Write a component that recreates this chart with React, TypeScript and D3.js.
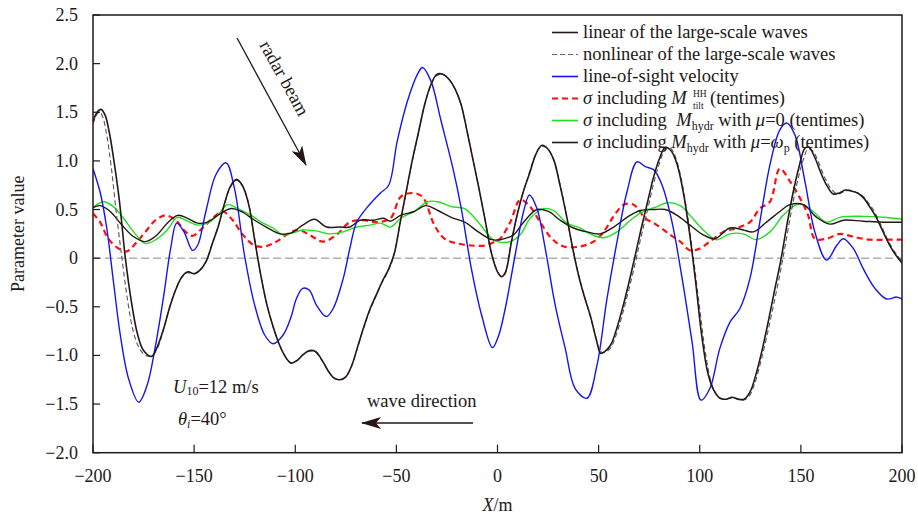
import React from "react";
import * as d3 from "d3";

type Pt = [number, number];

// ---- axes ----
const xTicks = [-200, -150, -100, -50, 0, 50, 100, 150, 200];
const xTickLabels = ["−200", "−150", "−100", "−50", "0", "50", "100", "150", "200"];
const yTicks = [2.5, 2.0, 1.5, 1.0, 0.5, 0, -0.5, -1.0, -1.5, -2.0];
const yTickLabels = ["2.5", "2.0", "1.5", "1.0", "0.5", "0", "−0.5", "−1.0", "−1.5", "−2.0"];

// ---- series: [X (m), value] ----
const linearWave: Pt[] = [
  [-200, 1.40], [-198, 1.50], [-196, 1.53], [-194, 1.47], [-192, 1.30], [-190, 1.05], [-187, 0.60],
  [-184, 0.0], [-181, -0.45], [-178, -0.78], [-175, -0.95], [-171, -1.01], [-168, -0.90], [-165, -0.72],
  [-162, -0.50], [-159, -0.32], [-156, -0.19], [-153, -0.14], [-150, -0.16], [-147, -0.12], [-144, -0.03],
  [-141, 0.15], [-138, 0.33], [-135, 0.56], [-132, 0.74], [-129, 0.81], [-126, 0.74], [-123, 0.55],
  [-120, 0.18], [-117, -0.18], [-114, -0.48], [-111, -0.70], [-108, -0.88], [-105, -1.01], [-102, -1.08],
  [-99, -1.05], [-96, -0.99], [-93, -0.95], [-90, -0.96], [-87, -1.04], [-84, -1.15], [-81, -1.23],
  [-78, -1.25], [-75, -1.22], [-72, -1.10], [-69, -0.90], [-66, -0.70], [-63, -0.52], [-60, -0.38],
  [-57, -0.24], [-54, -0.12], [-51, 0.05], [-48, 0.38], [-45, 0.70], [-42, 1.02], [-39, 1.30],
  [-36, 1.58], [-33, 1.78], [-30, 1.89], [-27, 1.89], [-24, 1.84], [-21, 1.74], [-18, 1.58],
  [-15, 1.30], [-12, 1.00], [-9, 0.70], [-6, 0.38], [-3, 0.05], [0, -0.14], [2, -0.19], [4, -0.14],
  [7, 0.18], [10, 0.47], [13, 0.70], [16, 0.88], [19, 1.07], [22, 1.16], [25, 1.12], [28, 1.00],
  [31, 0.74], [34, 0.45], [37, 0.12], [40, -0.17], [43, -0.40], [46, -0.60], [49, -0.85], [51, -0.98],
  [53, -0.96], [56, -0.89], [59, -0.72], [62, -0.50], [65, -0.25], [68, 0.02], [71, 0.30], [74, 0.56],
  [77, 0.82], [80, 1.02], [83, 1.14], [86, 1.10], [89, 0.95], [92, 0.66], [95, 0.25], [98, -0.25],
  [101, -0.80], [104, -1.18], [107, -1.36], [110, -1.44], [113, -1.45], [116, -1.43], [119, -1.45],
  [122, -1.45], [125, -1.37], [128, -1.18], [131, -0.93], [134, -0.64], [137, -0.33], [140, -0.03],
  [143, 0.33], [146, 0.66], [149, 0.93], [152, 1.13], [154, 1.14], [157, 1.03], [160, 0.87], [163, 0.74],
  [166, 0.66], [169, 0.67], [172, 0.70], [175, 0.69], [178, 0.67], [181, 0.62], [184, 0.53], [187, 0.43],
  [190, 0.30], [194, 0.13], [197, 0.03], [200, -0.05],
];

const nonlinearWave: Pt[] = [
  [-200, 1.38], [-198, 1.48], [-196.5, 1.50], [-195, 1.44], [-193, 1.24], [-191, 0.94], [-188.5, 0.47],
  [-185.7, 0.0], [-183, -0.42], [-180, -0.76], [-177, -0.93], [-174, -1.00], [-171, -1.00], [-168, -0.92],
  [-165.5, -0.76], [-162.5, -0.53], [-159.5, -0.34], [-156.5, -0.21], [-153.5, -0.15], [-150.5, -0.16],
  [-147.5, -0.13], [-144.5, -0.05], [-141.5, 0.12], [-138.5, 0.30], [-135.5, 0.52], [-132.5, 0.71],
  [-129.5, 0.80], [-126.5, 0.76], [-123.5, 0.60], [-120.5, 0.25], [-117.5, -0.12], [-114.5, -0.44],
  [-111.5, -0.67], [-108.5, -0.86], [-105.5, -0.99], [-102.5, -1.07], [-99.5, -1.06], [-96.5, -1.00],
  [-93.5, -0.96], [-90.5, -0.96], [-87.5, -1.03], [-84.5, -1.13], [-81.5, -1.22], [-78.5, -1.25],
  [-75.5, -1.23], [-72.5, -1.13], [-69.5, -0.94], [-66.5, -0.74], [-63.5, -0.56], [-60.5, -0.41],
  [-57.5, -0.27], [-54.5, -0.15], [-51.5, 0.01], [-48.5, 0.32], [-45.5, 0.64], [-42.5, 0.96],
  [-39.5, 1.25], [-36.5, 1.54], [-33.5, 1.75], [-30.5, 1.87], [-27.5, 1.89], [-24.5, 1.85], [-21.5, 1.76],
  [-18.5, 1.61], [-15.5, 1.35], [-12.5, 1.05], [-9.5, 0.75], [-6.5, 0.43], [-3.5, 0.10], [-0.5, -0.11],
  [1.5, -0.18], [3.5, -0.17], [6, 0.08], [9, 0.38], [12, 0.63], [15, 0.83], [18, 1.02], [21, 1.14],
  [24, 1.14], [27, 1.05], [30, 0.84], [33, 0.56], [36, 0.23], [39, -0.07], [42, -0.32], [45, -0.53],
  [48, -0.76], [51, -0.96], [53, -0.97], [56, -0.92], [59, -0.77], [62, -0.56], [65, -0.32], [68, -0.06],
  [71, 0.22], [74, 0.48], [77, 0.75], [80, 0.97], [83, 1.12], [85.5, 1.13], [88, 1.04], [91, 0.80],
  [94, 0.43], [97, -0.02], [100, -0.52], [103, -1.00], [106, -1.30], [109, -1.42], [112, -1.45],
  [115, -1.44], [118, -1.44], [121, -1.46], [124, -1.43], [127, -1.30], [130, -1.08], [133, -0.82],
  [136, -0.53], [139, -0.23], [142, 0.10], [145, 0.45], [148, 0.76], [151, 1.00], [153.5, 1.12],
  [156, 1.10], [159, 0.97], [162, 0.82], [165, 0.71], [168, 0.66], [171, 0.68], [174, 0.70], [177, 0.68],
  [180, 0.65], [183, 0.58], [186, 0.49], [189, 0.37], [192, 0.23], [195, 0.11], [198, 0.02], [200, -0.03],
];

const losVelocity: Pt[] = [
  [-200, 0.92], [-196.5, 0.68], [-193.2, 0.31], [-189.9, -0.24], [-186.5, -0.79], [-182.4, -1.24],
  [-177.4, -1.48], [-173.3, -1.31], [-169.1, -0.90], [-165, -0.38], [-161.6, 0.10], [-158.6, 0.36],
  [-155, 0.27], [-150.8, 0.08], [-148.3, 0.13], [-144.2, 0.48], [-139.2, 0.86], [-134.2, 0.98],
  [-130.1, 0.72], [-125.1, 0.03], [-120.1, -0.48], [-115.1, -0.79], [-111, -0.88], [-106, -0.79],
  [-102, -0.60], [-99.5, -0.42], [-96.3, -0.31], [-93, -0.33], [-89.6, -0.48], [-84.6, -0.60],
  [-81.3, -0.52], [-76.3, -0.21], [-73, 0.10], [-69.6, 0.37], [-62.9, 0.56], [-57.9, 0.67], [-53.8, 0.75],
  [-49.6, 1.20], [-44.6, 1.61], [-39.6, 1.89], [-37.1, 1.96], [-32.9, 1.82], [-27.9, 1.41], [-22, 0.92],
  [-17.9, 0.51], [-12.9, -0.11], [-7.8, -0.59], [-2.5, -0.92], [0.5, -0.80], [3.8, -0.52], [8.7, 0.03],
  [12.9, 0.48], [15.8, 0.65], [19.5, 0.51], [23.6, 0.10], [28.5, -0.48], [33.5, -0.93], [38.4, -1.34],
  [44.2, -1.44], [49.2, -1.10], [54.1, -0.42], [59.1, 0.17], [64, 0.68], [69, 0.99], [73.1, 0.94],
  [77.2, 0.91], [81.4, 0.75], [86.3, 0.37], [91.3, -0.21], [96.2, -0.86], [100.6, -1.46], [105, -1.34],
  [109.9, -0.93], [114.9, -0.66], [119.8, -0.52], [124.8, -0.21], [129.7, 0.37], [134.7, 0.96],
  [139.6, 1.32], [143, 1.39], [147, 1.27], [152, 0.79], [156.9, 0.27], [162.7, -0.02], [167.7, 0.13],
  [171, 0.20], [175.9, 0.10], [180.9, -0.11], [186.6, -0.31], [192.4, -0.42], [197.4, -0.40], [200, -0.42],
];

const sigmaTilt: Pt[] = [
  [-200, 0.46], [-196.5, 0.37], [-192.4, 0.20], [-187.4, 0.10], [-183.2, 0.07], [-178.2, 0.17],
  [-174.1, 0.27], [-169.1, 0.39], [-164.1, 0.44], [-159.1, 0.39], [-154.2, 0.27], [-150.8, 0.23],
  [-145.8, 0.31], [-140.9, 0.41], [-135.9, 0.48], [-130.9, 0.39], [-125.9, 0.24], [-120.1, 0.13],
  [-115.1, 0.12], [-109.3, 0.17], [-102, 0.27], [-98, 0.29], [-93, 0.24], [-86.3, 0.17], [-79.6, 0.24],
  [-73, 0.37], [-66.3, 0.39], [-59.6, 0.37], [-52.9, 0.41], [-47.9, 0.63], [-42.1, 0.67], [-37.1, 0.63],
  [-31.2, 0.34], [-26.2, 0.20], [-19.5, 0.15], [-12.9, 0.13], [-6.2, 0.13], [-1.2, 0.17], [1.3, 0.20],
  [6.3, 0.37], [11.2, 0.60], [15.3, 0.55], [21.1, 0.37], [26.9, 0.20], [32.7, 0.12], [40.9, 0.12],
  [47.5, 0.17], [52.5, 0.27], [57.4, 0.43], [62.4, 0.55], [67.3, 0.55], [73.1, 0.41], [78.9, 0.34],
  [85.5, 0.24], [90.4, 0.17], [95.2, 0.08], [100, 0.10], [105, 0.17], [111.6, 0.27], [118.2, 0.31],
  [124.8, 0.37], [129.7, 0.51], [134.7, 0.58], [139.6, 0.92], [144.6, 0.79], [149.5, 0.62], [153.6, 0.44],
  [156.9, 0.20], [162.7, 0.20], [169.3, 0.25], [175.9, 0.22], [184.2, 0.19], [192.4, 0.19], [200, 0.19],
];

const sigmaHydrZero: Pt[] = [
  [-200, 0.52], [-194.9, 0.58], [-189.9, 0.53], [-184.9, 0.41], [-179.9, 0.27], [-174.1, 0.15],
  [-168.3, 0.20], [-163.3, 0.29], [-158.3, 0.42], [-153.3, 0.38], [-148.3, 0.34], [-143.4, 0.36],
  [-138.4, 0.44], [-133.4, 0.55], [-128.4, 0.51], [-121.8, 0.44], [-116.8, 0.37], [-111, 0.31],
  [-106, 0.24], [-101, 0.26], [-96.3, 0.29], [-89.6, 0.28], [-83, 0.25], [-76.3, 0.27], [-69.6, 0.32],
  [-62.9, 0.34], [-57.9, 0.36], [-52.9, 0.32], [-47.9, 0.41], [-41.2, 0.48], [-34.6, 0.58], [-29.5, 0.58],
  [-22.9, 0.53], [-16.2, 0.51], [-9.5, 0.37], [-2.8, 0.20], [0, 0.17], [6.3, 0.17], [11.2, 0.24],
  [16.2, 0.41], [22.8, 0.51], [27.7, 0.49], [34.3, 0.36], [40.9, 0.31], [45.9, 0.25], [52.5, 0.21],
  [59.1, 0.27], [65.7, 0.39], [72.3, 0.48], [78.9, 0.53], [83.8, 0.57], [90.4, 0.54], [95.2, 0.44],
  [101.7, 0.29], [108.3, 0.19], [114.9, 0.25], [121.5, 0.25], [128, 0.19], [134.7, 0.27], [141.3, 0.44],
  [147.9, 0.55], [151.2, 0.55], [156.1, 0.48], [162.7, 0.37], [169.3, 0.42], [180.9, 0.43], [190.8, 0.42],
  [200, 0.40],
];

const sigmaHydrPeak: Pt[] = [
  [-200, 0.52], [-196.5, 0.54], [-191.5, 0.48], [-185.7, 0.34], [-179.9, 0.22], [-174.1, 0.17],
  [-168.3, 0.24], [-163.3, 0.36], [-158, 0.44], [-153.3, 0.41], [-148.3, 0.36], [-143.4, 0.37],
  [-138.4, 0.44], [-131.7, 0.51], [-126.7, 0.48], [-120.1, 0.39], [-113.5, 0.31], [-107.6, 0.25],
  [-102, 0.26], [-96.3, 0.34], [-90.5, 0.40], [-84.6, 0.32], [-78, 0.32], [-73, 0.32], [-68, 0.39],
  [-61.3, 0.39], [-56.3, 0.41], [-53, 0.38], [-47.9, 0.44], [-41.2, 0.48], [-35.4, 0.54], [-29.5, 0.49],
  [-22.9, 0.42], [-16.2, 0.37], [-9.5, 0.27], [-2.8, 0.19], [1.3, 0.19], [7.9, 0.24], [12.9, 0.37],
  [19.5, 0.50], [25.2, 0.48], [31, 0.39], [37.6, 0.31], [44.2, 0.27], [50.8, 0.25], [57.4, 0.32],
  [64, 0.42], [70.6, 0.49], [77.2, 0.50], [83, 0.50], [88.8, 0.44], [95.2, 0.34], [101.7, 0.24],
  [107.4, 0.20], [114.9, 0.31], [121.5, 0.29], [126.4, 0.27], [133, 0.37], [139.6, 0.48], [144.6, 0.55],
  [151.2, 0.55], [157.8, 0.42], [164.4, 0.35], [171, 0.39], [180.9, 0.38], [190.8, 0.37], [200, 0.37],
];

// ---- layout & style ----
const W = 918;
const H = 515;
const LEFT = 93;
const RIGHT = 902;
const TOP = 15;
const BOTTOM = 452.7;
const FONT = "'Liberation Serif', 'Times New Roman', Times, serif";
const INK = "#231815";
const TEXT_SIZE = 18.5;

const x = d3.scaleLinear().domain([-200, 200]).range([LEFT, RIGHT]);
const y = d3.scaleLinear().domain([-2, 2.5]).range([BOTTOM, TOP]);
const lineGen = d3
  .line<Pt>()
  .x((d) => x(d[0]))
  .y((d) => y(d[1]))
  .curve(d3.curveCatmullRom.alpha(0.5));

type Series = { key: string; data: Pt[]; color: string; width: number; dash?: string };

const seriesList: Series[] = [
  { key: "tilt", data: sigmaTilt, color: "#ff1010", width: 2.2, dash: "6,4" },
  { key: "hydr0", data: sigmaHydrZero, color: "#1fe01f", width: 1.4 },
  { key: "hydrP", data: sigmaHydrPeak, color: INK, width: 1.4 },
  { key: "los", data: losVelocity, color: "#1414f0", width: 1.4 },
  { key: "nonlinear", data: nonlinearWave, color: "#555", width: 1.1, dash: "5,3" },
  { key: "linear", data: linearWave, color: INK, width: 1.6 },
];

const legendSwatches: Series[] = [
  { key: "linear", data: [], color: INK, width: 1.6 },
  { key: "nonlinear", data: [], color: "#666", width: 1.2, dash: "5,3" },
  { key: "los", data: [], color: "#1414f0", width: 1.6 },
  { key: "tilt", data: [], color: "#ff1010", width: 2.2, dash: "6,4" },
  { key: "hydr0", data: [], color: "#1fe01f", width: 1.6 },
  { key: "hydrP", data: [], color: INK, width: 1.6 },
];

function LegendLabel({ index }: { index: number }) {
  const it = { fontStyle: "italic" as const };
  switch (index) {
    case 0:
      return <>linear of the large-scale waves</>;
    case 1:
      return <>nonlinear of the large-scale waves</>;
    case 2:
      return <>line-of-sight velocity</>;
    case 3:
      return (
        <>
          <tspan style={it}>σ</tspan> including <tspan style={it}>M</tspan>
        </>
      );
    case 4:
      return (
        <>
          <tspan style={it}>σ</tspan> including <tspan style={it} dx={5}>M</tspan>
          <tspan fontSize={12} dy={4}>hydr</tspan>
          <tspan dy={-4}> with </tspan>
          <tspan style={it}>μ</tspan>=0 (tentimes)
        </>
      );
    default:
      return (
        <>
          <tspan style={it}>σ</tspan> including <tspan style={it}>M</tspan>
          <tspan fontSize={12} dy={4}>hydr</tspan>
          <tspan dy={-4}> with </tspan>
          <tspan style={it}>μ</tspan>=<tspan style={it}>ω</tspan>
          <tspan fontSize={12} dy={4}>p</tspan>
          <tspan dy={-4}> (tentimes)</tspan>
        </>
      );
  }
}

export default function App() {
  const tiltRowBase = 37.5 + 22 * 3;
  return (
    <svg
      width={W}
      height={H}
      viewBox={`0 0 ${W} ${H}`}
      style={{ position: "absolute", left: 0, top: 0, background: "#fff" }}
      fontFamily={FONT}
    >
      <defs>
        <clipPath id="plot-clip">
          <rect x={LEFT} y={TOP} width={RIGHT - LEFT} height={BOTTOM - TOP} />
        </clipPath>
        <marker
          id="arrow-head"
          viewBox="0 0 20 12"
          refX={19}
          refY={6}
          markerWidth={20}
          markerHeight={12}
          markerUnits="userSpaceOnUse"
          orient="auto"
        >
          <path d="M0,0 L20,6 L0,12 L5,6 Z" fill={INK} />
        </marker>
      </defs>

      <rect x={0} y={0} width={W} height={H} fill="#fff" />

      {/* zero reference line */}
      <line
        x1={LEFT}
        x2={RIGHT}
        y1={y(0)}
        y2={y(0)}
        stroke="#888"
        strokeWidth={1}
        strokeDasharray="8,4"
      />

      {/* curves */}
      <g clipPath="url(#plot-clip)" fill="none">
        {seriesList.map((s) => (
          <path
            key={s.key}
            d={lineGen(s.data) || ""}
            stroke={s.color}
            strokeWidth={s.width}
            strokeDasharray={s.dash}
            strokeLinejoin="round"
          />
        ))}
      </g>

      {/* frame */}
      <rect
        x={LEFT}
        y={TOP}
        width={RIGHT - LEFT}
        height={BOTTOM - TOP}
        fill="none"
        stroke={INK}
        strokeWidth={1.5}
      />

      {/* y ticks */}
      {yTicks.map((t, i) => (
        <g key={`y${t}`}>
          <line x1={LEFT} x2={LEFT + 7} y1={y(t)} y2={y(t)} stroke={INK} strokeWidth={1.2} />
          <text x={78} y={y(t) + 6} fontSize={18} textAnchor="end" fill={INK}>
            {yTickLabels[i]}
          </text>
        </g>
      ))}

      {/* x ticks */}
      {xTicks.map((t, i) => (
        <g key={`x${t}`}>
          <line x1={x(t)} x2={x(t)} y1={BOTTOM} y2={BOTTOM - 8} stroke={INK} strokeWidth={1.2} />
          <text x={x(t)} y={482} fontSize={18} textAnchor="middle" fill={INK}>
            {xTickLabels[i]}
          </text>
        </g>
      ))}

      {/* axis titles */}
      <text x={(LEFT + RIGHT) / 2} y={511} fontSize={18} textAnchor="middle" fill={INK}>
        <tspan fontStyle="italic">X</tspan>/m
      </text>
      <text
        transform={`translate(24, ${(TOP + BOTTOM) / 2}) rotate(-90)`}
        fontSize={18}
        textAnchor="middle"
        fill={INK}
      >
        Parameter value
      </text>

      {/* legend */}
      <g>
        {legendSwatches.map((s, i) => {
          const base = 37.5 + 22 * i;
          return (
            <g key={`lg-${s.key}`}>
              <line
                x1={552}
                x2={578}
                y1={base - 5}
                y2={base - 5}
                stroke={s.color}
                strokeWidth={s.width}
                strokeDasharray={s.dash}
              />
              <text x={583} y={base} fontSize={TEXT_SIZE} fill={INK}>
                <LegendLabel index={i} />
              </text>
            </g>
          );
        })}
        {/* stacked super/subscript of the tilt modulation entry */}
        <text x={693} y={tiltRowBase - 6.5} fontSize={9.5} fill={INK}>
          HH
        </text>
        <text x={693} y={tiltRowBase + 5} fontSize={9.5} fill={INK}>
          tilt
        </text>
        <text x={710} y={tiltRowBase} fontSize={TEXT_SIZE} fill={INK}>
          (tentimes)
        </text>
      </g>

      {/* radar beam annotation */}
      <line
        x1={237}
        y1={38}
        x2={306}
        y2={165}
        stroke={INK}
        strokeWidth={1.3}
        markerEnd="url(#arrow-head)"
      />
      <text transform="translate(259, 45) rotate(61)" fontSize={TEXT_SIZE} fill={INK}>
        radar beam
      </text>

      {/* wave direction annotation */}
      <text x={367} y={407} fontSize={TEXT_SIZE} fill={INK}>
        wave direction
      </text>
      <line
        x1={473}
        y1={423}
        x2={362}
        y2={423}
        stroke={INK}
        strokeWidth={1.3}
        markerEnd="url(#arrow-head)"
      />

      {/* conditions */}
      <text x={173} y={393} fontSize={TEXT_SIZE} fill={INK}>
        <tspan fontStyle="italic">U</tspan>
        <tspan fontSize={12} dy={2}>10</tspan>
        <tspan dy={-2}>=12 m/s</tspan>
      </text>
      <text x={178} y={425} fontSize={TEXT_SIZE} fill={INK}>
        <tspan fontStyle="italic">θ</tspan>
        <tspan fontSize={12} fontStyle="italic" dy={3}>i</tspan>
        <tspan dy={-3}>=40°</tspan>
      </text>
    </svg>
  );
}
